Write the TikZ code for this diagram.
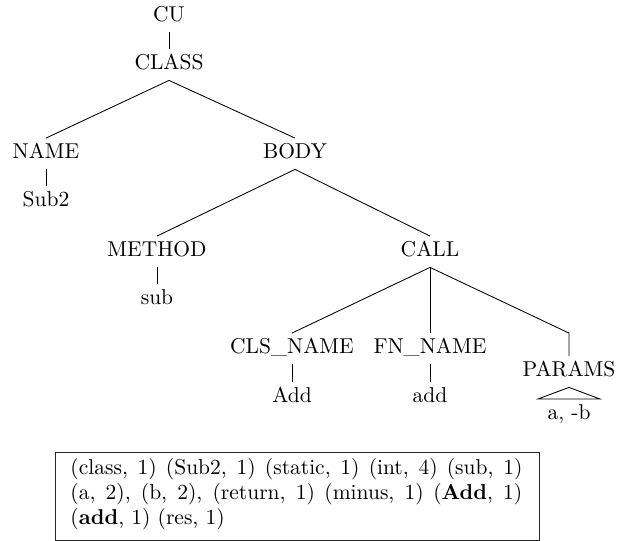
\documentclass[tikz,border=0pt]{standalone}
\usetikzlibrary{calc}

\tikzset{
  lab/.style={anchor=base, text height=6.83pt, text depth=1.94pt,
              inner xsep=0pt, inner ysep=2.7pt},
  edge/.style={draw=black, line width=0.4pt},
  frame/.style={draw=black!85, line width=0.45pt}
}

\begin{document}
\begin{tikzpicture}[x=0.4651pt, y=-0.4651pt]
  \useasboundingbox (0,0) rectangle (620,541);

  % tree labels (positions are baselines)
  \node[lab] (cu)      at (169,22)  {CU};
  \node[lab] (class)   at (169,70)  {CLASS};
  \node[lab] (name)    at (46,159)  {NAME};
  \node[lab] (body)    at (295,159) {BODY};
  \node[lab] (sub2)    at (46,207)  {Sub2};
  \node[lab] (method)  at (157,257) {METHOD};
  \node[lab] (call)    at (430,257) {CALL};
  \node[lab] (subm)    at (157,305) {sub};
  \node[lab] (clsname) at (292,354) {CLS\_NAME};
  \node[lab] (fnname)  at (430,354) {FN\_NAME};
  \node[lab] (params)  at (569,377) {PARAMS};
  \node[lab] (addc)    at (292,403) {Add};
  \node[lab] (addf)    at (430,403) {add};

  % branches
  \draw[edge] (cu.south) -- (class.north);
  \draw[edge] (class.south) -- (name.north);
  \draw[edge] (class.south) -- (body.north);
  \draw[edge] (name.south) -- (sub2.north);
  \draw[edge] (body.south) -- (method.north);
  \draw[edge] (body.south) -- (call.north);
  \draw[edge] (method.south) -- (subm.north);
  \draw[edge] (call.south) -- (clsname.north);
  \draw[edge] (call.south) -- (fnname.north);
  \coordinate (pbend) at (params.north |- fnname.north);
  \draw[edge] (call.south) -- (pbend) -- (params.north);
  \draw[edge] (clsname.south) -- (addc.north);
  \draw[edge] (fnname.south) -- (addf.north);

  % roof over the collapsed parameter list
  \coordinate (roofL) at (538,399);
  \coordinate (roofR) at (600,399);
  \draw[edge] (roofL) -- (params.south) -- (roofR) -- cycle;
  \node[lab, anchor=north] (args) at ($(roofL)!0.5!(roofR)$) {a, -b};

  % token frequency box (justified paragraph inside a frame)
  \draw[frame] (55,452) rectangle (539,540);
  \node[anchor=north west, inner sep=0pt, align=justify, text width=210.2pt,
        font=\fontsize{10pt}{11.5pt}\selectfont] (tokens) at (70,458)
    {(class, 1) (Sub2, 1) (static, 1) (int, 4) (sub, 1)\linebreak
     (a, 2), (b, 2), (return, 1) (minus, 1) (\textbf{Add}, 1)\linebreak
     (\textbf{add}, 1) (res, 1)};
\end{tikzpicture}
\end{document}
